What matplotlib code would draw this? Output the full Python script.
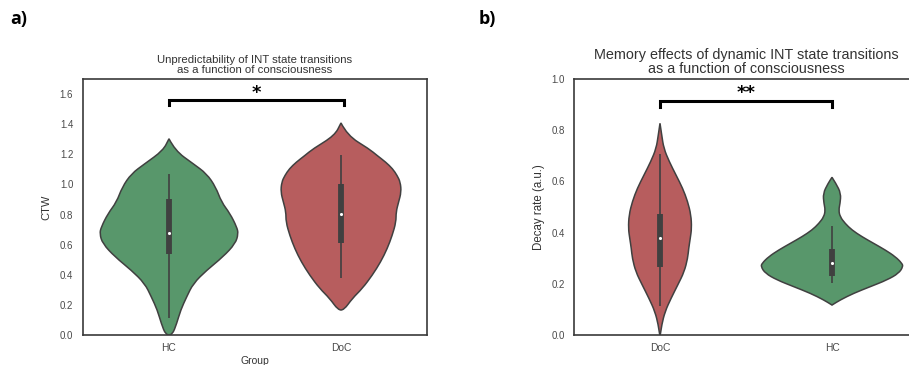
import matplotlib
matplotlib.use("Agg")
import matplotlib.pyplot as plt
from matplotlib.path import Path
from matplotlib.patches import PathPatch

plt.rcParams['font.family'] = ['Liberation Sans', 'DejaVu Sans']

# ---------------- data ----------------
# Panel a: CTW per group
a_groups = ["HC", "DoC"]
a_colors = ["#58976b", "#b75d5e"]
# violin outlines: y values and half-widths (category units)
a_hc_y = [1.303, 1.225, 1.137, 1.071, 0.982, 0.883, 0.806, 0.717, 0.673, 0.607,
          0.519, 0.430, 0.342, 0.254, 0.166, 0.077, 0.0]
a_hc_w = [0.0, 0.035, 0.141, 0.219, 0.272, 0.305, 0.355, 0.394, 0.403, 0.386,
          0.314, 0.219, 0.141, 0.103, 0.068, 0.045, 0.019]
a_doc_y = [1.408, 1.325, 1.236, 1.192, 1.148, 1.104, 1.060, 1.015, 0.949, 0.883,
           0.817, 0.751, 0.662, 0.574, 0.486, 0.397, 0.309, 0.243, 0.166]
a_doc_w = [0.0, 0.037, 0.163, 0.210, 0.260, 0.300, 0.326, 0.345, 0.350, 0.335,
           0.320, 0.320, 0.298, 0.269, 0.231, 0.182, 0.124, 0.066, 0.017]
# box stats: whisker low, q1, median, q3, whisker high
a_hc_box = [0.11, 0.541, 0.678, 0.905, 1.071]
a_doc_box = [0.378, 0.612, 0.806, 1.002, 1.198]

# Panel b: decay rate per group
b_groups = ["DoC", "HC"]
b_colors = ["#b75d5e", "#58976b"]
b_doc_y = [0.827, 0.781, 0.729, 0.677, 0.625, 0.573, 0.521, 0.469, 0.417, 0.378,
           0.339, 0.300, 0.247, 0.195, 0.143, 0.091, 0.039, 0.0]
b_doc_w = [0.0, 0.010, 0.022, 0.054, 0.093, 0.132, 0.161, 0.180, 0.184, 0.176,
           0.167, 0.161, 0.141, 0.103, 0.064, 0.029, 0.010, 0.002]
b_hc_y = [0.616, 0.592, 0.553, 0.514, 0.488, 0.462, 0.436, 0.410, 0.384, 0.358,
          0.332, 0.306, 0.280, 0.267, 0.241, 0.215, 0.189, 0.163, 0.137, 0.117]
b_hc_w = [0.0, 0.023, 0.052, 0.047, 0.039, 0.047, 0.076, 0.116, 0.174, 0.242,
          0.310, 0.368, 0.407, 0.413, 0.388, 0.320, 0.223, 0.126, 0.048, 0.0]
b_doc_box = [0.112, 0.267, 0.380, 0.471, 0.708]
b_hc_box = [0.204, 0.232, 0.283, 0.334, 0.426]

TEXT = "#333333"
TICK = "#4a4a4a"
EDGE = "#404040"


def outline(x0, ys, ws):
    pts = [(x0 + w, y) for y, w in zip(ys, ws)]
    pts += [(x0 - w, y) for y, w in zip(ys[::-1], ws[::-1])]
    verts = [pts[0]]
    codes = [Path.MOVETO]
    for i in range(1, len(pts) - 1):
        mid = ((pts[i][0] + pts[i + 1][0]) / 2, (pts[i][1] + pts[i + 1][1]) / 2)
        verts += [pts[i], mid]
        codes += [Path.CURVE3, Path.CURVE3]
    verts += [pts[-1], pts[0]]
    codes += [Path.LINETO, Path.CLOSEPOLY]
    return Path(verts, codes)


def violin(ax, x0, ys, ws, color, box):
    patch = PathPatch(outline(x0, ys, ws), facecolor=color, edgecolor=EDGE,
                      linewidth=1.1, zorder=2)
    ax.add_patch(patch)
    lo, q1, med, q3, hi = box
    ax.plot([x0, x0], [lo, hi], color=EDGE, lw=1.2, zorder=3,
            solid_capstyle='butt')
    ax.plot([x0, x0], [q1, q3], color=EDGE, lw=4.2, zorder=3,
            solid_capstyle='butt')
    ax.scatter([x0], [med], s=5, color="white", zorder=4, linewidths=0)


def style(ax):
    for sp in ax.spines.values():
        sp.set_color("#3a3a3a")
        sp.set_linewidth(1.2)
    ax.tick_params(length=0, labelsize=7, colors=TICK)
    ax.tick_params(axis='x', labelsize=7.4)
    ax.set_xlim(-0.5, 1.5)


def bracket(ax, x1, x2, y, h, label, ty):
    ax.plot([x1, x1, x2, x2], [y - h, y, y, y - h], color="black", lw=2.2,
            solid_joinstyle='miter', zorder=5, clip_on=False)
    ax.text((x1 + x2) / 2, ty, label, ha="center", va="center",
            fontsize=13, fontweight="bold", family="DejaVu Sans")


fig = plt.figure(figsize=(9.09, 3.65), dpi=100)
W, H = 909, 365
axA = fig.add_axes([83 / W, 30 / H, 344 / W, 256 / H])
axB = fig.add_axes([574 / W, 30 / H, 344 / W, 256 / H])

# Panel a
violin(axA, 0, a_hc_y, a_hc_w, a_colors[0], a_hc_box)
violin(axA, 1, a_doc_y, a_doc_w, a_colors[1], a_doc_box)
style(axA)
axA.set_ylim(0, 1.7)
axA.set_yticks([0.0, 0.2, 0.4, 0.6, 0.8, 1.0, 1.2, 1.4, 1.6])
axA.set_yticklabels(["0.0", "0.2", "0.4", "0.6", "0.8", "1.0", "1.2", "1.4", "1.6"])
axA.set_xticks([0, 1])
axA.set_xticklabels(a_groups)
axA.tick_params(axis='y', pad=7)
axA.tick_params(axis='x', pad=6)
axA.set_ylabel("CTW", fontsize=8, color=TEXT, labelpad=6)
axA.set_xlabel("Group", fontsize=7.5, color=TEXT, labelpad=2)
axA.set_title("Unpredictability of INT state transitions\nas a function of consciousness",
              fontsize=8.2, color=TEXT, pad=4, linespacing=1.0)
bracket(axA, 0, 1.02, 1.563, 0.035, "*", 1.61)

# Panel b
violin(axB, 0, b_doc_y, b_doc_w, b_colors[0], b_doc_box)
violin(axB, 1, b_hc_y, b_hc_w, b_colors[1], b_hc_box)
style(axB)
axB.set_ylim(0, 1.0)
axB.set_yticks([0.0, 0.2, 0.4, 0.6, 0.8, 1.0])
axB.set_yticklabels(["0.0", "0.2", "0.4", "0.6", "0.8", "1.0"])
axB.set_xticks([0, 1])
axB.set_xticklabels(b_groups)
axB.tick_params(axis='y', pad=6.5)
axB.tick_params(axis='x', pad=6)
axB.set_ylabel("Decay rate (a.u.)", fontsize=8.3, color=TEXT, labelpad=5)
axB.set_title("Memory effects of dynamic INT state transitions\nas a function of consciousness",
              fontsize=10.4, color=TEXT, pad=4, linespacing=1.0)
bracket(axB, 0, 1.0, 0.915, 0.023, "**", 0.947)

fig.text(10 / W, 1 - 10 / H, "a)", fontsize=13, fontweight="bold",
         family="Open Sans", va="top", ha="left")
fig.text(479 / W, 1 - 10 / H, "b)", fontsize=13, fontweight="bold",
         family="Open Sans", va="top", ha="left")

fig.savefig("out.png", dpi=100, facecolor="white")
